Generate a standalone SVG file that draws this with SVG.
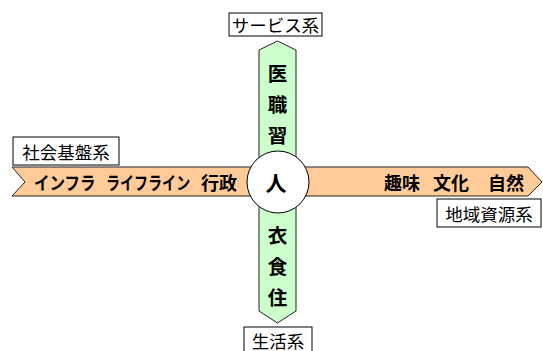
<svg xmlns="http://www.w3.org/2000/svg" width="543" height="351" viewBox="0 0 543 351">
<style>
.lbl rect{fill:#fff;stroke:#000;stroke-width:1}
.lbl text{font-family:"Noto Sans CJK JP","Liberation Sans",sans-serif;font-size:17.5px;fill:#000;text-anchor:middle;dominant-baseline:central}
.big{font-family:"Noto Sans CJK JP","Liberation Sans",sans-serif;font-weight:bold;fill:#000;text-anchor:middle;dominant-baseline:central}
.hw{font-family:"Noto Sans CJK JP","Liberation Sans",sans-serif;font-weight:bold;fill:#000;font-size:18px;dominant-baseline:central}
.arrow{stroke:#222;stroke-width:1}
</style>
<rect width="543" height="351" fill="#fff"/>
<g id="connectors">
<polygon id="h-arrow" class="arrow" fill="#FFCC99" points="12,167 528,167 542,182 528,196 12,196 25,182"/>
<polygon id="v-arrow" class="arrow" fill="#CCFFCC" points="259,50 277.5,41 296,50 296,311 277.5,323 259,311"/>
</g>
<g id="h-left-text">
<text class="hw" transform="translate(34,182) scale(0.86,1)" x="0" y="0">インフラ</text>
<text class="hw" transform="translate(106,182) scale(0.78,1)" x="0" y="0">ライフライン</text>
<text class="hw" x="201" y="182">行政</text>
</g>
<g id="h-right-text">
<text class="hw" x="384" y="182">趣味</text>
<text class="hw" x="433" y="182">文化</text>
<text class="hw" x="488" y="182">自然</text>
</g>
<g id="v-top-text">
<text class="big" x="277.5" y="72" font-size="19.5">医</text>
<text class="big" x="277.5" y="103" font-size="19.5">職</text>
<text class="big" x="277.5" y="134" font-size="19.5">習</text>
</g>
<g id="v-bottom-text">
<text class="big" x="277.5" y="234" font-size="19.5">衣</text>
<text class="big" x="277.5" y="265" font-size="19.5">食</text>
<text class="big" x="277.5" y="296" font-size="19.5">住</text>
</g>
<g id="person">
<circle cx="278" cy="182" r="31" fill="#fff" stroke="#000" stroke-width="1"/>
<text class="big" x="276" y="182" font-size="21">人</text>
</g>
<g id="service" class="lbl"><rect x="229" y="13" width="93" height="23"/><text x="275.5" y="24.5">サービス系</text></g>
<g id="infra" class="lbl"><rect x="13" y="137" width="106" height="28"/><text x="66" y="151">社会基盤系</text></g>
<g id="region" class="lbl"><rect x="437" y="199" width="104" height="28"/><text x="489" y="213">地域資源系</text></g>
<g id="life" class="lbl"><rect x="244" y="327" width="68" height="30"/><text x="278" y="340">生活系</text></g>
</svg>
